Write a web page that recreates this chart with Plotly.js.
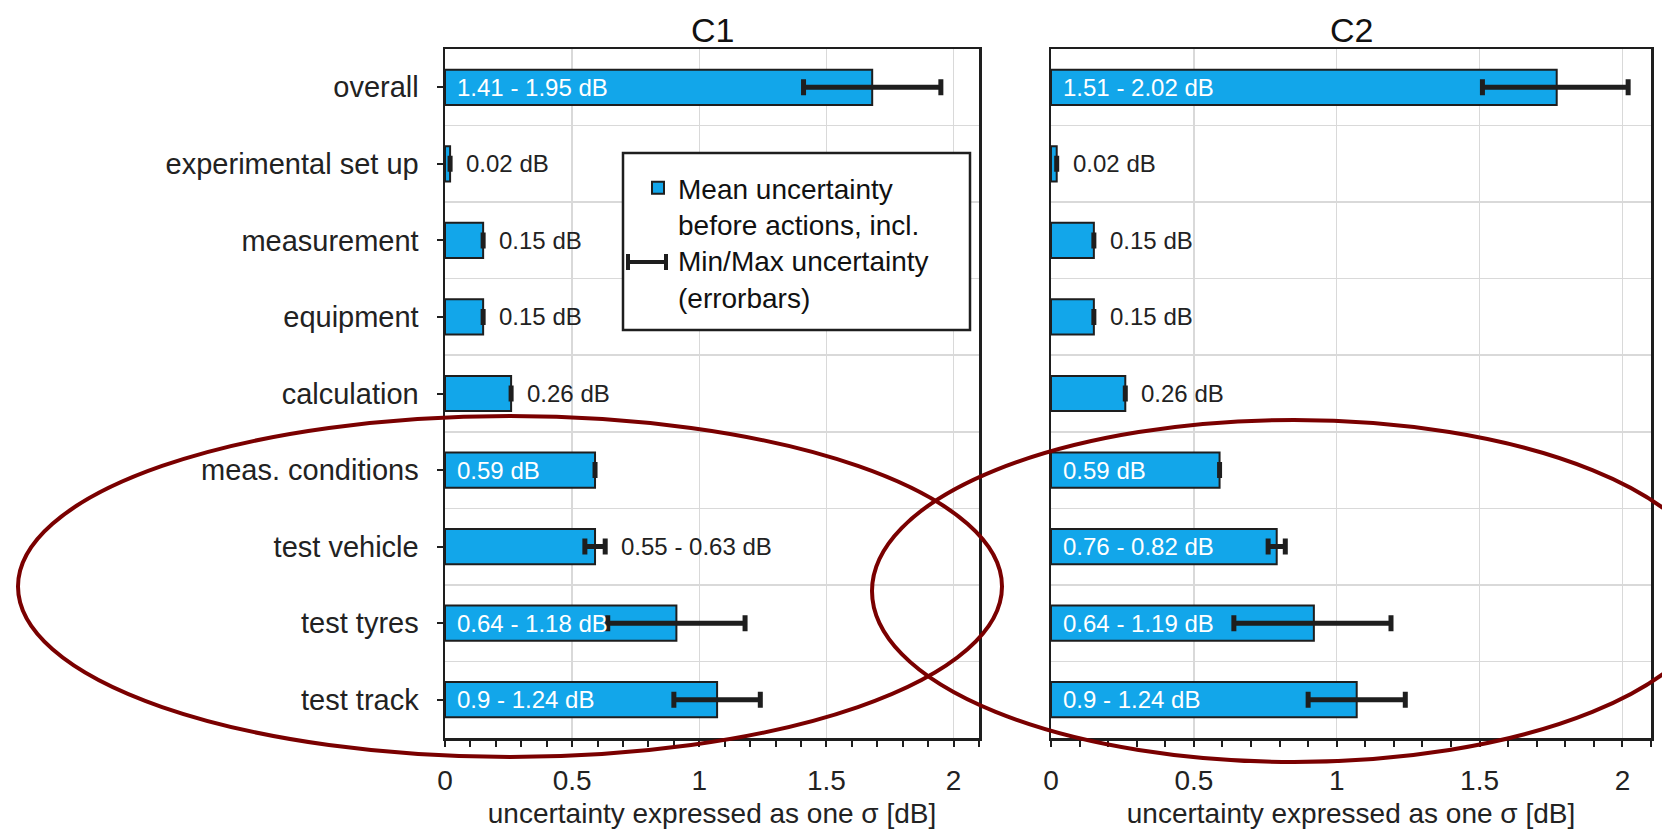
<!DOCTYPE html>
<html>
<head>
<meta charset="utf-8">
<script src="https://cdn.plot.ly/plotly-3.0.1.min.js"></script>
<style>
  html, body { margin: 0; padding: 0; background: #ffffff; }
  #chart { width: 1662px; height: 829px; }
</style>
</head>
<body>
<div id="chart"></div>
<script>
// ---------------- data ----------------
const categories = ['overall', 'experimental set up', 'measurement', 'equipment', 'calculation',
                    'meas. conditions', 'test vehicle', 'test tyres', 'test track'];

const c1Mean = [1.68, 0.02, 0.15, 0.15, 0.26, 0.59, 0.59, 0.91, 1.07];
const c1Min  = [1.41, 0.02, 0.15, 0.15, 0.26, 0.59, 0.55, 0.64, 0.9];
const c1Max  = [1.95, 0.02, 0.15, 0.15, 0.26, 0.59, 0.63, 1.18, 1.24];

const c2Mean = [1.77, 0.02, 0.15, 0.15, 0.26, 0.59, 0.79, 0.92, 1.07];
const c2Min  = [1.51, 0.02, 0.15, 0.15, 0.26, 0.59, 0.76, 0.64, 0.9];
const c2Max  = [2.02, 0.02, 0.15, 0.15, 0.26, 0.59, 0.82, 1.19, 1.24];

// where each value label sits: inside the bar (white) or after it (dark)
const c1LabelInside = [true, false, false, false, false, true, false, true, true];
const c2LabelInside = [true, false, false, false, false, true, true, true, true];

const panelTitles = ['C1', 'C2'];
const xTitle = 'uncertainty expressed as one σ [dB]';
const legendText = 'Mean uncertainty<br>before actions, incl.<br>Min/Max uncertainty<br>(errorbars)';

// ---------------- layout geometry ----------------
const W = 1662, H = 829;
const M = { l: 445, r: 11, t: 49, b: 91 };
const plotW = W - M.l - M.r, plotH = H - M.t - M.b;
const px = x => (x - M.l) / plotW;
const py = y => 1 - (y - M.t) / plotH;

const FONT = 'Liberation Sans, Arial, Helvetica, sans-serif';
const BAR_FILL = '#12a6ea';
const DARK = '#1e1e1e';
const GRID = '#d9d9d9';

function labelText(mn, mx) {
  return mn === mx ? `${mn} dB` : `${mn} - ${mx} dB`;
}

function barTrace(mean, mn, mx, xa, ya, showLegend) {
  return {
    type: 'bar', orientation: 'h',
    y: categories, x: mean,
    xaxis: xa, yaxis: ya,
    name: legendText, showlegend: showLegend,
    marker: { color: BAR_FILL, line: { color: DARK, width: 2 } },
    error_x: {
      type: 'data', symmetric: false,
      array: mean.map((m, i) => +(mx[i] - m).toFixed(4)),
      arrayminus: mean.map((m, i) => +(m - mn[i]).toFixed(4)),
      color: DARK, thickness: 5, width: 8
    },
    hoverinfo: 'skip'
  };
}

const traces = [
  barTrace(c1Mean, c1Min, c1Max, 'x', 'y', true),
  barTrace(c2Mean, c2Min, c2Max, 'x2', 'y2', false),
  // empty helpers so the overlaid grid axes are drawn
  { type: 'scatter', x: [], y: [], xaxis: 'x', yaxis: 'y3', showlegend: false, hoverinfo: 'skip' },
  { type: 'scatter', x: [], y: [], xaxis: 'x2', yaxis: 'y4', showlegend: false, hoverinfo: 'skip' }
];

function valueAnnotations(mn, mx, inside, xa, ya) {
  return categories.map((c, i) => ({
    x: inside[i] ? 0 : mx[i], y: c, xref: xa, yref: ya,
    text: labelText(mn[i], mx[i]),
    showarrow: false, xanchor: 'left', yanchor: 'middle',
    xshift: inside[i] ? 10 : 14,
    font: { family: FONT, size: 24, color: inside[i] ? '#ffffff' : '#222222' }
  }));
}

function xAxis(domain, anchor) {
  return {
    domain: domain, anchor: anchor,
    range: [0, 2.1], tick0: 0, dtick: 0.5,
    ticks: 'outside', ticklen: 6, tickwidth: 2, tickcolor: DARK,
    minor: { dtick: 0.1, ticks: 'outside', ticklen: 6, tickwidth: 2, tickcolor: DARK, showgrid: false },
    showgrid: true, gridcolor: GRID, gridwidth: 1.5,
    zeroline: false, showline: true, linecolor: DARK, linewidth: 2.5, mirror: true,
    tickfont: { family: FONT, size: 28, color: '#222' },
    ticklabelstandoff: 10,
    title: { text: xTitle, font: { family: FONT, size: 28, color: '#222' }, standoff: 18 },
    fixedrange: true
  };
}

function yAxis(anchor, labels) {
  return {
    type: 'category', anchor: anchor, domain: [0, 1],
    categoryorder: 'array', categoryarray: categories,
    range: [categories.length - 0.5, -0.5],
    ticks: labels ? 'outside' : '', ticklen: 6, tickwidth: 2, tickcolor: DARK,
    showticklabels: labels, ticklabelstandoff: 12,
    showgrid: false, zeroline: false,
    showline: true, linecolor: DARK, linewidth: 2.5, mirror: true,
    tickfont: { family: FONT, size: 29, color: '#222' },
    fixedrange: true
  };
}

function gridAxis(overlay, anchor) {
  return {
    overlaying: overlay, anchor: anchor, type: 'linear',
    range: [categories.length - 0.5, -0.5], tick0: 0.5, dtick: 1,
    showgrid: true, gridcolor: GRID, gridwidth: 1.5,
    showticklabels: false, ticks: '', showline: false, zeroline: false,
    fixedrange: true
  };
}

const annotations = [
  ...valueAnnotations(c1Min, c1Max, c1LabelInside, 'x', 'y'),
  ...valueAnnotations(c2Min, c2Max, c2LabelInside, 'x2', 'y2'),
  { text: panelTitles[0], x: 0.5, xref: 'x domain', y: py(30), yref: 'paper',
    xanchor: 'center', yanchor: 'middle', showarrow: false,
    font: { family: FONT, size: 34, color: '#111' } },
  { text: panelTitles[1], x: 0.5, xref: 'x2 domain', y: py(30), yref: 'paper',
    xanchor: 'center', yanchor: 'middle', showarrow: false,
    font: { family: FONT, size: 34, color: '#111' } }
];

const ELLIPSE = '#7a0000';
const shapes = [
  // legend frame (white box, covers gridlines)
  { type: 'rect', xref: 'paper', yref: 'paper', layer: 'above',
    x0: px(623), x1: px(970), y0: py(330), y1: py(153),
    fillcolor: '#ffffff', line: { color: DARK, width: 2.5 } },
  // legend error-bar glyph
  { type: 'line', xref: 'paper', yref: 'paper', layer: 'above',
    x0: px(627), x1: px(667), y0: py(262), y1: py(262), line: { color: DARK, width: 4 } },
  { type: 'line', xref: 'paper', yref: 'paper', layer: 'above',
    x0: px(628), x1: px(628), y0: py(254), y1: py(270), line: { color: DARK, width: 4 } },
  { type: 'line', xref: 'paper', yref: 'paper', layer: 'above',
    x0: px(666), x1: px(666), y0: py(254), y1: py(270), line: { color: DARK, width: 4 } },
  // highlight ellipses
  { type: 'circle', xref: 'paper', yref: 'paper', layer: 'above',
    x0: px(18), x1: px(1002), y0: py(757), y1: py(416),
    line: { color: ELLIPSE, width: 4 } },
  { type: 'circle', xref: 'paper', yref: 'paper', layer: 'above',
    x0: px(872), x1: px(1716), y0: py(762), y1: py(420),
    line: { color: ELLIPSE, width: 4 } }
];

const layout = {
  width: W, height: H,
  margin: M,
  paper_bgcolor: '#ffffff', plot_bgcolor: '#ffffff',
  font: { family: FONT, color: '#222' },
  bargap: 0.54,
  xaxis: xAxis([0, px(979)], 'y'),
  xaxis2: xAxis([px(1051), 1], 'y2'),
  yaxis: yAxis('x', true),
  yaxis2: yAxis('x2', false),
  yaxis3: gridAxis('y', 'x'),
  yaxis4: gridAxis('y2', 'x2'),
  showlegend: true,
  legend: {
    x: px(638), y: py(163), xanchor: 'left', yanchor: 'top',
    bgcolor: 'rgba(0,0,0,0)', borderwidth: 0,
    font: { family: FONT, size: 28, color: '#111' },
    valign: 'top', itemclick: false, itemdoubleclick: false
  },
  annotations: annotations,
  shapes: shapes
};

Plotly.newPlot('chart', traces, layout, { displayModeBar: false, staticPlot: true });
</script>
</body>
</html>
